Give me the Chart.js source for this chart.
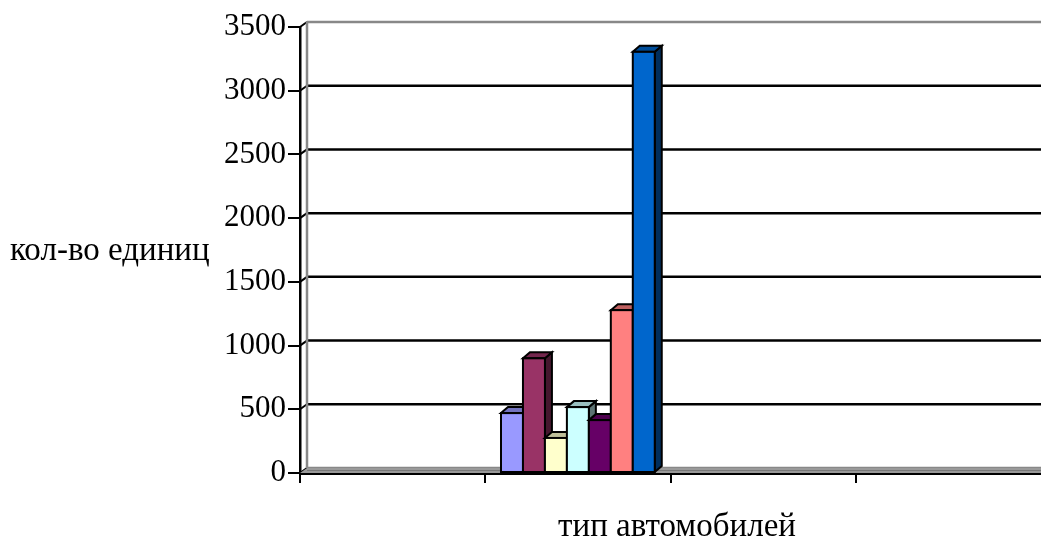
<!DOCTYPE html>
<html>
<head>
<meta charset="utf-8">
<script src="https://cdn.jsdelivr.net/npm/chart.js@4/dist/chart.umd.min.js"></script>
<style>
  html, body { margin: 0; padding: 0; background: #fff; }
  #wrap { width: 1041px; height: 544px; position: relative; }
</style>
</head>
<body>
<div id="wrap"><canvas id="c" width="1041" height="544"></canvas></div>
<script>
// Categories along the x axis (unlabelled groups)
const categories = ['', '', '', ''];
// Vehicle types shown as separate series, values in the second group
const seriesNames = ['Тип 1', 'Тип 2', 'Тип 3', 'Тип 4', 'Тип 5', 'Тип 6', 'Тип 7'];
const seriesValues = [470, 900, 275, 517, 415, 1278, 3305];
const seriesColors = ['#9999FF', '#993366', '#FFFFCC', '#CCFFFF', '#660066', '#FF8080', '#0066CC'];
const yTicks = [0, 500, 1000, 1500, 2000, 2500, 3000, 3500];
const yTitle = 'кол-во единиц';
const xTitle = 'тип автомобилей';

const FONT = "'Liberation Serif', 'Times New Roman', serif";
const DX = 7, DY = -5;       // depth of the back wall
const BDX = 7, BDY = -6;     // depth of each column

function shade(hex, f) {
  const n = parseInt(hex.slice(1), 16);
  let r = (n >> 16) & 255, g = (n >> 8) & 255, b = n & 255;
  r = Math.round(r * f); g = Math.round(g * f); b = Math.round(b * f);
  return `rgb(${Math.min(255, r)},${Math.min(255, g)},${Math.min(255, b)})`;
}

const datasets = seriesNames.map((name, i) => ({
  label: name,
  data: categories.map((_, k) => (k === 1 ? seriesValues[i] : null)),
  backgroundColor: seriesColors[i],
  borderColor: '#000',
  borderWidth: 2,
  categoryPercentage: 0.83,
  barPercentage: 1.0
}));

// Back wall, floor and gridlines drawn behind the columns
const wallPlugin = {
  id: 'wall',
  beforeDatasetsDraw(chart) {
    const { ctx, chartArea: a, scales: { y } } = chart;
    ctx.save();
    // gridlines on the back wall
    yTicks.forEach((v, idx) => {
      const py = y.getPixelForValue(v);
      ctx.lineWidth = 2.5;
      ctx.strokeStyle = (idx === 0 || idx === yTicks.length - 1) ? '#888' : '#000';
      ctx.beginPath();
      ctx.moveTo(a.left + DX, py + DY);
      ctx.lineTo(a.right, py + DY);
      ctx.stroke();
      // link from the front tick to the wall
      ctx.strokeStyle = '#000';
      ctx.lineWidth = 2;
      ctx.beginPath();
      ctx.moveTo(a.left, py);
      ctx.lineTo(a.left + DX, py + DY);
      ctx.stroke();
    });
    // left wall edge
    ctx.strokeStyle = '#888';
    ctx.lineWidth = 2.5;
    ctx.beginPath();
    ctx.moveTo(a.left + DX, y.getPixelForValue(3500) + DY);
    ctx.lineTo(a.left + DX, y.getPixelForValue(0) + DY);
    ctx.stroke();
    // floor
    const fy = y.getPixelForValue(0);
    ctx.fillStyle = '#999';
    ctx.beginPath();
    ctx.moveTo(a.left, fy);
    ctx.lineTo(a.left + DX, fy + DY);
    ctx.lineTo(a.right, fy + DY);
    ctx.lineTo(a.right, fy);
    ctx.closePath();
    ctx.fill();
    ctx.strokeStyle = '#777';
    ctx.lineWidth = 1;
    ctx.beginPath();
    ctx.moveTo(a.left + DX, fy + DY + 2.5);
    ctx.lineTo(a.right, fy + DY + 2.5);
    ctx.stroke();
    ctx.restore();
  },
  afterDatasetsDraw(chart) {
    const { ctx } = chart;
    ctx.save();
    ctx.lineWidth = 2;
    ctx.strokeStyle = '#000';
    ctx.lineJoin = 'miter';
    for (let i = 0; i < chart.data.datasets.length; i++) {
      const meta = chart.getDatasetMeta(i);
      meta.data.forEach((bar, k) => {
        const v = chart.data.datasets[i].data[k];
        if (v === null || v === undefined) return;
        const { x, y: top, base, width } = bar.getProps(['x', 'y', 'base', 'width'], true);
        const l = x - width / 2, r = x + width / 2;
        const col = seriesColors[i];
        // side face
        ctx.fillStyle = shade(col, 0.45);
        ctx.beginPath();
        ctx.moveTo(r, base);
        ctx.lineTo(r + BDX, base + BDY);
        ctx.lineTo(r + BDX, top + BDY);
        ctx.lineTo(r, top);
        ctx.closePath();
        ctx.fill(); ctx.stroke();
        // top face
        ctx.fillStyle = shade(col, 0.75);
        ctx.beginPath();
        ctx.moveTo(l, top);
        ctx.lineTo(l + BDX, top + BDY);
        ctx.lineTo(r + BDX, top + BDY);
        ctx.lineTo(r, top);
        ctx.closePath();
        ctx.fill(); ctx.stroke();
        // front face
        ctx.fillStyle = col;
        ctx.fillRect(l, top, width, base - top);
        ctx.strokeRect(l, top, width, base - top);
      });
    }
    ctx.restore();
  },
  afterDraw(chart) {
    const { ctx } = chart;
    ctx.save();
    ctx.fillStyle = '#000';
    ctx.font = `33px ${FONT}`;
    ctx.textBaseline = 'middle';
    ctx.textAlign = 'left';
    ctx.fillText(yTitle, 10, 251);
    ctx.textAlign = 'center';
    ctx.fillText(xTitle, 677, 527);
    ctx.restore();
  }
};

new Chart(document.getElementById('c'), {
  type: 'bar',
  data: { labels: categories, datasets },
  options: {
    responsive: false,
    animation: false,
    devicePixelRatio: 1,
    layout: { padding: { top: 27, right: 0, left: 0, bottom: 0 } },
    plugins: { legend: { display: false }, tooltip: { enabled: false } },
    scales: {
      x: {
        offset: true,
        grid: {
          offset: true, drawOnChartArea: false, drawTicks: true, tickLength: 10, lineWidth: 2,
          // no tick mark at the far right edge
          color: (c) => (c.type === 'tick' ? '#000' : 'rgba(0,0,0,0)')
        },
        border: { color: '#000', width: 3 },
        ticks: { display: true, font: { size: 1 }, padding: 0 },
        afterFit(scale) { scale.height = 544 - 473; }
      },
      y: {
        min: 0, max: 3500,
        afterBuildTicks(scale) { scale.ticks = yTicks.map(v => ({ value: v })); },
        grid: { drawOnChartArea: false, drawTicks: true, tickLength: 12, color: '#000', lineWidth: 2 },
        border: { color: '#000', width: 2.5 },
        ticks: { color: '#000', font: { family: FONT, size: 31 }, padding: 2, callback: (v) => String(v) },
        afterFit(scale) { scale.width = 300; }
      }
    }
  },
  plugins: [wallPlugin]
});
</script>
</body>
</html>
